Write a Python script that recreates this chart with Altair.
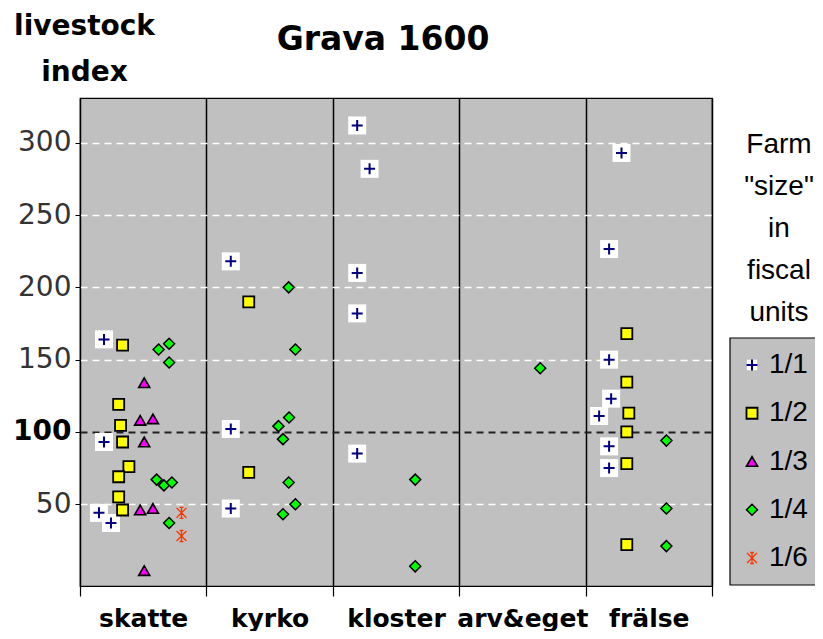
import altair as alt
import pandas as pd

categories = ["skatte", "kyrko", "kloster", "arv&eget", "frälse"]
size_classes = ["1/1", "1/2", "1/3", "1/4", "1/6"]

# values: size class, livestock index, position inside the column (0..1)
skatte_class = ["1/1"] * 4 + ["1/2"] * 8 + ["1/3"] * 7 + ["1/4"] * 7 + ["1/6"] * 2
skatte_value = [164, 93, 44, 37,
                160, 119, 104.5, 93, 76, 69, 55, 46,
                134, 108, 109, 93, 46, 47, 4,
                157, 161, 148, 67, 63, 65, 37,
                44, 28]
skatte_xpos = [0.19, 0.19, 0.15, 0.245,
               0.337, 0.306, 0.321, 0.337, 0.387, 0.306, 0.306, 0.337,
               0.508, 0.476, 0.577, 0.508, 0.476, 0.577, 0.508,
               0.622, 0.705, 0.705, 0.606, 0.664, 0.727, 0.705,
               0.803, 0.803]

kyrko_class = ["1/1"] * 3 + ["1/2"] * 2 + ["1/4"] * 8
kyrko_value = [218, 102, 47, 190, 72, 200, 157, 110, 104, 95, 65, 50, 43]
kyrko_xpos = [0.193, 0.193, 0.193, 0.335, 0.335,
              0.651, 0.704, 0.654, 0.570, 0.606, 0.651, 0.704, 0.606]

kloster_class = ["1/1"] * 5 + ["1/4"] * 2
kloster_value = [312, 282, 210, 182, 85, 67, 7]
kloster_xpos = [0.193, 0.291, 0.193, 0.193, 0.193, 0.652, 0.652]

arv_class = ["1/4"]
arv_value = [144]
arv_xpos = [0.641]

fralse_class = ["1/1"] * 7 + ["1/2"] * 6 + ["1/4"] * 3
fralse_value = [293, 226.5, 150, 123, 111, 90, 75,
                168, 134.5, 113, 100, 78, 22,
                94, 47, 21]
fralse_xpos = [0.284, 0.186, 0.186, 0.202, 0.107, 0.186, 0.186,
               0.326, 0.326, 0.342, 0.326, 0.326, 0.326,
               0.639, 0.639, 0.639]

y_ticks = [50, 100, 150, 200, 250, 300]
farm_label_lines = ["Farm", '"size"', "in", "fiscal", "units"]

groups = [
    ("skatte", skatte_class, skatte_value, skatte_xpos),
    ("kyrko", kyrko_class, kyrko_value, kyrko_xpos),
    ("kloster", kloster_class, kloster_value, kloster_xpos),
    ("arv&eget", arv_class, arv_value, arv_xpos),
    ("frälse", fralse_class, fralse_value, fralse_xpos),
]
rows = []
for cat, cls, vals, xs in groups:
    ci = categories.index(cat)
    for c, v, xp in zip(cls, vals, xs):
        rows.append({"category": cat, "cls": c, "value": v, "x": ci + xp})
df = pd.DataFrame(rows)
legend_df = pd.DataFrame({"cls": size_classes})

PLUS = "M-1,0H1M0,-1V1"
STAR = "M-0.9,-0.9L0.9,0.9M-0.9,0.9L0.9,-0.9M0,-1V1M-0.35,-1H0.35M-0.35,1H0.35"

fill_scale = alt.Scale(domain=size_classes, range=["white", "#FFFF00", "#FF00FF", "#00FF00", "#FF3300"])
stroke_scale = alt.Scale(domain=size_classes, range=["#000080", "black", "black", "black", "#FF3300"])
shape_scale = alt.Scale(domain=size_classes, range=[PLUS, "square", "triangle-up", "diamond", STAR])

cat_array = "[" + ",".join("'" + c + "'" for c in categories) + "]"

x_scale = alt.Scale(domain=[0, 5], nice=False, zero=False)
y_scale = alt.Scale(domain=[-6.6, 331], nice=False, zero=False)

x_enc = alt.X(
    "x:Q", scale=x_scale,
    axis=alt.Axis(
        values=[i * 0.5 for i in range(11)], title=None,
        labelExpr="datum.value % 1 === 0 ? '' : " + cat_array + "[floor(datum.value)]",
        labelFont="DejaVu Sans", labelFontSize=25, labelFontWeight="bold", labelColor="black",
        labelPadding=10, labelOverlap=False, labelFlush=False,
        tickSize=10, tickColor="black", tickWidth=1.2,
        tickOpacity=alt.condition("datum.value % 1 === 0", alt.value(1), alt.value(0)),
        grid=True, gridColor="black", gridWidth=1.5,
        gridOpacity=alt.condition("datum.value % 1 === 0", alt.value(1), alt.value(0)),
        domain=True, domainColor="black",
    ),
)
y_enc = alt.Y(
    "value:Q", scale=y_scale,
    axis=alt.Axis(
        values=y_ticks,
        title=["livestock", "index"], titleAngle=0, titleAlign="center", titleBaseline="top",
        titleX=4, titleY=-86, titleFont="DejaVu Sans", titleFontSize=28, titleFontWeight="bold",
        titleColor="black", titleLineHeight=46,
        labelFont="DejaVu Sans", labelFontSize=28,
        labelFontWeight=alt.condition("datum.value === 100", alt.value("bold"), alt.value("normal")),
        labelColor=alt.condition("datum.value === 100", alt.value("black"), alt.value("#333333")),
        labelPadding=4, tickSize=5, tickColor="black",
        grid=True, gridDash=[7, 5],
        gridColor=alt.condition("datum.value === 100", alt.value("#222222"), alt.value("white")),
        gridWidth=alt.condition("datum.value === 100", alt.value(2), alt.value(1.5)),
        domain=True, domainColor="black",
    ),
)

base = alt.Chart(df)

boxes = base.transform_filter(alt.datum.cls == "1/1").mark_point(
    shape="square", filled=True, color="white", size=324, strokeWidth=0, opacity=1
).encode(x=x_enc, y=y_enc)

points = base.mark_point(filled=True, opacity=1).encode(
    x=x_enc, y=y_enc,
    fill=alt.Fill("cls:N", scale=fill_scale, legend=None),
    stroke=alt.Stroke("cls:N", scale=stroke_scale, legend=None),
    shape=alt.Shape("cls:N", scale=shape_scale, legend=None),
    size=alt.Size("cls:O", scale=alt.Scale(domain=size_classes,
                  range=[121, 121, 144, 140, 100]), legend=None),
    strokeWidth=alt.StrokeWidth("cls:O", scale=alt.Scale(domain=size_classes,
                                range=[2, 1.3, 1, 1, 1.5]), legend=None),
)

main = alt.layer(boxes, points)

# hand-built legend (box, symbols and labels) on its own y scale
leg_y = alt.Y("cls:N", scale=alt.Scale(domain=size_classes, range=[267, 460], padding=0), axis=None)
leg_base = alt.Chart(legend_df)

leg_frame = alt.Chart(alt.Data(values=[{"k": 1}])).mark_rect(
    fill="#C0C0C0", stroke="black", strokeWidth=1.2
).encode(x=alt.value(650), x2=alt.value(760), y=alt.value(240), y2=alt.value(487))

leg_white = leg_base.transform_filter(alt.datum.cls == "1/1").mark_point(
    shape="square", filled=True, color="white", size=110, strokeWidth=0, opacity=1
).encode(x=alt.value(672), y=leg_y)

leg_marks = leg_base.mark_point(filled=True, opacity=1).encode(
    x=alt.value(672), y=leg_y,
    fill=alt.Fill("cls:N", scale=fill_scale, legend=None),
    stroke=alt.Stroke("cls:N", scale=stroke_scale, legend=None),
    shape=alt.Shape("cls:N", scale=shape_scale, legend=None),
    size=alt.Size("cls:O", scale=alt.Scale(domain=size_classes,
                  range=[64, 72, 90, 100, 64]), legend=None),
    strokeWidth=alt.StrokeWidth("cls:O", scale=alt.Scale(domain=size_classes,
                                range=[1.6, 1.3, 1, 1, 1.3]), legend=None),
)

leg_text = leg_base.mark_text(
    align="left", baseline="middle", font="Liberation Sans", fontSize=28, color="black"
).encode(x=alt.value(689), y=leg_y, text="cls:N")

legend_layer = alt.layer(leg_frame, leg_white, leg_marks, leg_text)

farm_text = alt.Chart(alt.Data(values=[{"k": 1}])).mark_text(
    text=farm_label_lines, align="center", baseline="middle", lineHeight=42,
    font="Liberation Sans", fontSize=28, color="black",
).encode(x=alt.value(699), y=alt.value(47))

chart = alt.layer(main, legend_layer, farm_text).resolve_scale(y="independent").properties(
    width=632, height=488,
    padding={"left": 72, "top": 90, "right": 103, "bottom": 45},
    autosize=alt.AutoSizeParams(type="none"),
    title=alt.TitleParams("Grava 1600", font="DejaVu Sans", fontSize=33, fontWeight="bold",
                          color="black", anchor="middle", dx=-13, dy=71, offset=0,
                          baseline="alphabetic"),
).configure_view(fill="#C0C0C0", stroke="black", strokeWidth=1.2)

chart.save("out.html", embed_options={"renderer": "svg", "actions": False})
